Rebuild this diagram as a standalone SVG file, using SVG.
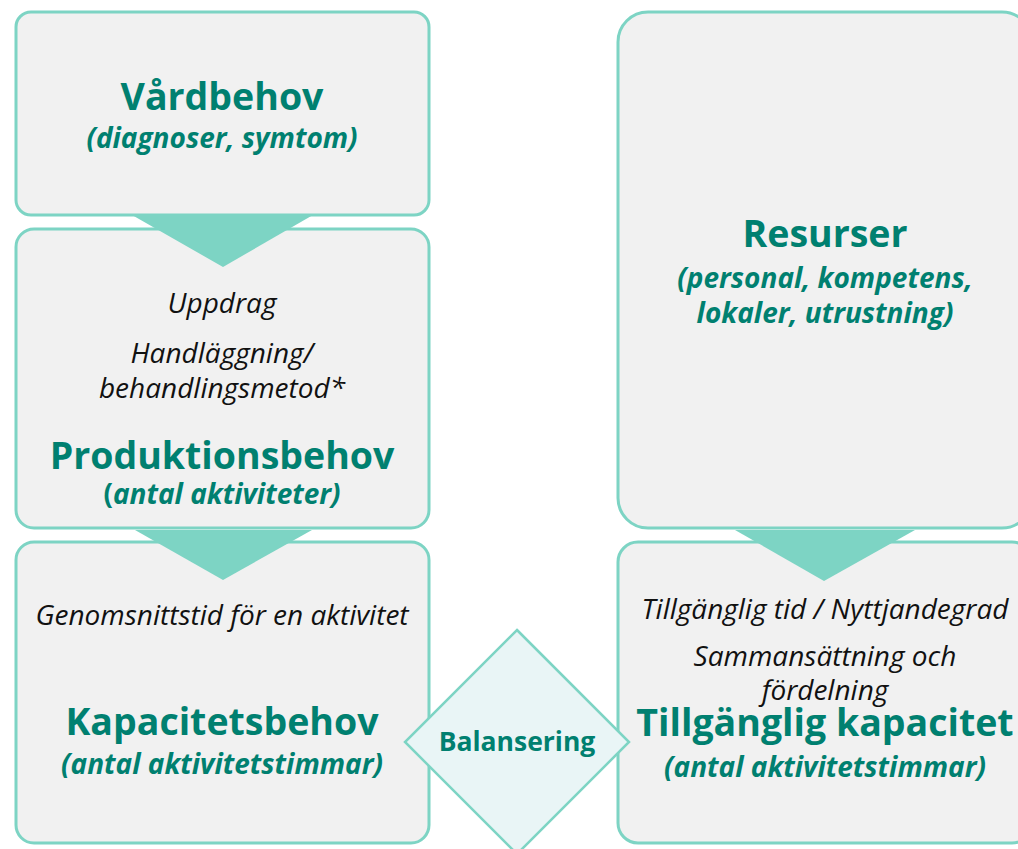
<svg xmlns="http://www.w3.org/2000/svg" width="1018" height="849" viewBox="0 0 1018 849">
  <style>
    .box { fill: #f1f1f1; stroke: #7dd4c4; stroke-width: 3; }
    .arrow { fill: #7dd4c4; }
    .diamond { fill: #e9f5f6; stroke: #7dd4c4; stroke-width: 2.5; }
    text { font-family: "Open Sans", "Noto Sans", "Liberation Sans", sans-serif; text-anchor: middle; }
    .title { font-size: 37.5px; font-weight: 700; fill: #008070; }
    .sub { font-size: 28px; font-weight: 700; font-style: italic; fill: #008070; }
    .note { font-size: 28px; font-style: italic; fill: #111111; }
    .bal { font-size: 26.5px; font-weight: 700; fill: #008070; }
    .up { font-style: normal; }
  </style>

  <!-- left column -->
  <g id="vardbehov">
    <rect class="box" x="16" y="12" width="413" height="203" rx="15"/>
    <text class="title" x="222" y="110">Vårdbehov</text>
    <text class="sub" x="222" y="148">(diagnoser, symtom)</text>
  </g>

  <g id="produktionsbehov">
    <rect class="box" x="16" y="229" width="413" height="299" rx="18"/>
    <text class="note" x="222" y="313">Uppdrag</text>
    <text class="note" x="222" y="363">Handläggning/</text>
    <text class="note" x="222" y="398">behandlingsmetod*</text>
    <text class="title" x="222" y="469">Produktionsbehov</text>
    <text class="sub" x="222" y="504"><tspan class="up">(</tspan>antal aktiviteter)</text>
  </g>

  <g id="kapacitetsbehov">
    <rect class="box" x="16" y="542" width="413" height="301" rx="18"/>
    <text class="note" x="222" y="625">Genomsnittstid för en aktivitet</text>
    <text class="title" x="222" y="735">Kapacitetsbehov</text>
    <text class="sub" x="222" y="774">(antal aktivitetstimmar)</text>
  </g>

  <!-- right column -->
  <g id="resurser">
    <rect class="box" x="618" y="12" width="414" height="516" rx="30"/>
    <text class="title" x="825" y="247">Resurser</text>
    <text class="sub" x="825" y="288">(personal, kompetens,</text>
    <text class="sub" x="825" y="323">lokaler, utrustning)</text>
  </g>

  <g id="tillganglig-kapacitet">
    <rect class="box" x="618" y="542" width="414" height="301" rx="20"/>
    <text class="note" x="825" y="619">Tillgänglig tid / Nyttjandegrad</text>
    <text class="note" x="825" y="666">Sammansättning och</text>
    <text class="note" x="825" y="700">fördelning</text>
    <text class="title" x="825" y="736">Tillgänglig kapacitet</text>
    <text class="sub" x="825" y="777">(antal aktivitetstimmar)</text>
  </g>

  <!-- flow arrows between stacked boxes -->
  <g id="connectors">
    <polygon class="arrow" points="132,215 313,215 223,267"/>
    <polygon class="arrow" points="135,530 312,530 223,580"/>
    <polygon class="arrow" points="735,530 915,530 824,581"/>
  </g>

  <g id="balansering">
    <polygon class="diamond" points="517,630 629,742 517,854 405,742"/>
    <text class="bal" x="517" y="751">Balansering</text>
  </g>
</svg>
